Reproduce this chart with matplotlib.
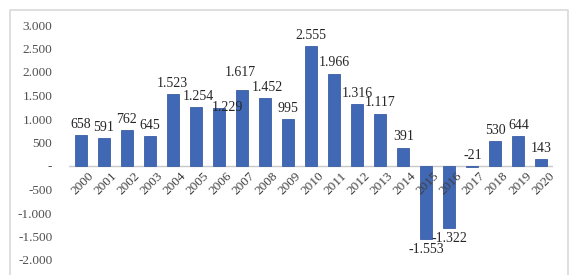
import matplotlib.pyplot as plt
from matplotlib.lines import Line2D
from matplotlib.ticker import FuncFormatter
import numpy as np

# ------------------ DATA ------------------
years = [str(y) for y in range(2000, 2021)]
values = [658, 591, 762, 645, 1523, 1254, 1229, 1617, 1452, 995,
          2555, 1966, 1316, 1117, 391, -1553, -1322, -21, 530, 644, 143]
yticks = [-2000, -1500, -1000, -500, 0, 500, 1000, 1500, 2000, 2500, 3000]


def fmt(v, pos=None):
    if v == 0:
        return "-"
    return f"{v:,.0f}".replace(",", ".")


plt.rcParams.update({
    "font.family": "Liberation Serif",
})

W, H = 574, 275
fig = plt.figure(figsize=(W / 100, H / 100), dpi=100)
ax = fig.add_axes([69 / W, 1 - 260 / H, (553 - 69) / W, (260 - 25) / H])

x = np.arange(len(years))
ax.bar(x, values, width=0.52, color="#4068B4", edgecolor="#3A5FA6", linewidth=0.6, zorder=2)

ax.set_xlim(-0.5, len(years) - 0.5)
ax.set_ylim(-2000, 3000)
ax.set_yticks(yticks)
ax.yaxis.set_major_formatter(FuncFormatter(fmt))
ax.tick_params(axis="y", length=0, labelsize=9.5, labelcolor="#505050", pad=12)
ax.set_xticks([])
for s in ax.spines.values():
    s.set_visible(False)
ax.axhline(0, color="#c8c8c8", lw=1, zorder=1)

# year labels, rotated, hanging from the zero line
for i, yr in enumerate(years):
    ax.annotate(yr, (i, 0), xytext=(5, -3), textcoords="offset points",
                rotation=45, ha="right", va="top", rotation_mode="anchor",
                fontsize=9.5, color="#404040")

# data labels (a few nudged like the original so neighbours don't collide)
nudge = {"2005": (2, 0), "2006": (6, -7), "2007": (-1, 5), "2008": (2, 0)}
for i, (yr, v) in enumerate(zip(years, values)):
    nx, ny = nudge.get(yr, (0, 0))
    if v >= 0 or yr == "2017":
        base = max(v, 0)
        ax.annotate(fmt(v), (i, base), xytext=(nx, 3 + ny), textcoords="offset points",
                    ha="center", va="bottom", fontsize=10, color="#262626")
    else:
        ax.annotate(fmt(v), (i, v), xytext=(nx, -3 + ny), textcoords="offset points",
                    ha="center", va="top", fontsize=10, color="#262626")

# chart frame
fx = [10 / W, 10 / W, 568 / W, 568 / W]
fy = [0, 1 - 10 / H, 1 - 10 / H, 0]
fig.add_artist(Line2D(fx, fy, color="#d9d9d9", lw=1.2, transform=fig.transFigure))

fig.savefig("out.png", dpi=100)
